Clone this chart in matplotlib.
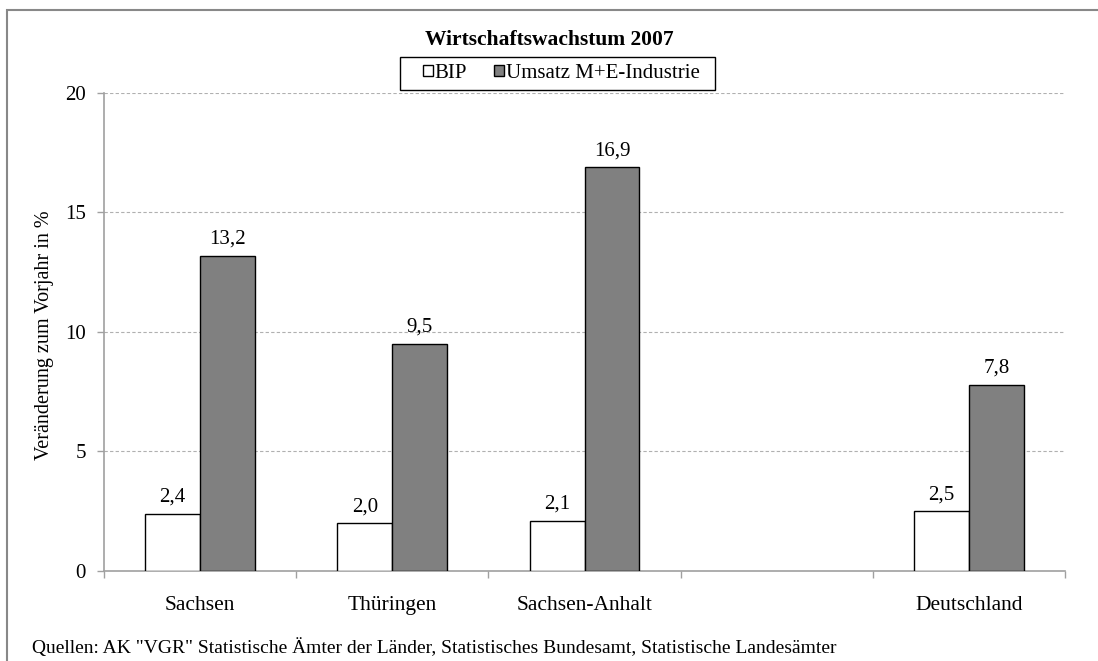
import numpy as np
import matplotlib
matplotlib.use("Agg")
import matplotlib.pyplot as plt
from matplotlib.patches import Rectangle

plt.rcParams["font.family"] = ["Liberation Serif", "DejaVu Serif"]

categories = ["Sachsen", "Thüringen", "Sachsen-Anhalt", "", "Deutschland"]
bip = [2.4, 2.0, 2.1, np.nan, 2.5]
umsatz = [13.2, 9.5, 16.9, np.nan, 7.8]
series_names = ["BIP", "Umsatz M+E-Industrie"]
yticks = [0, 5, 10, 15, 20]


def fmt(v):
    return f"{v:.1f}".replace(".", ",")


def main():
    fig = plt.figure(figsize=(10.98, 6.61), dpi=100)
    ax = fig.add_axes([0.0947, 0.1362, 0.8753, 0.7231])

    x = np.arange(len(categories))
    w = 0.286
    b1 = ax.bar(x - w / 2, bip, w, color="white", edgecolor="black", linewidth=1.0,
                label=series_names[0], zorder=3)
    b2 = ax.bar(x + w / 2, umsatz, w, color="#808080", edgecolor="black", linewidth=1.0,
                label=series_names[1], zorder=3)

    for bars, vals in ((b1, bip), (b2, umsatz)):
        for bar, v in zip(bars, vals):
            if np.isnan(v):
                continue
            ax.annotate(fmt(v), (bar.get_x() + bar.get_width() / 2, v),
                        xytext=(0, 5), textcoords="offset points",
                        ha="center", va="bottom", fontsize=15)

    ax.set_xlim(-0.5, len(categories) - 0.5)
    ax.set_ylim(0, 20)
    ax.set_yticks(yticks)
    ax.set_yticklabels([str(t) for t in yticks], fontsize=15)
    ax.yaxis.grid(True, linestyle=(0, (3, 2)), color="#b0b0b0", linewidth=0.8, zorder=0)

    # category boundaries as major ticks, names as minor ticks
    ax.set_xticks(np.arange(len(categories) + 1) - 0.5)
    ax.set_xticklabels([])
    ax.set_xticks(x, minor=True)
    ax.set_xticklabels(categories, minor=True, fontsize=15.5)
    ax.tick_params(axis="x", which="major", length=5, color="#a0a0a0", width=1)
    ax.tick_params(axis="x", which="minor", length=0, pad=18)
    ax.tick_params(axis="y", length=5, color="#a0a0a0", width=1, pad=8)

    for s in ("top", "right"):
        ax.spines[s].set_visible(False)
    for s in ("left", "bottom"):
        ax.spines[s].set_color("#a0a0a0")
        ax.spines[s].set_linewidth(1.2)

    ax.set_ylabel("Veränderung zum Vorjahr in %", fontsize=14.5)
    ax.yaxis.set_label_coords(-0.052, 0.493)

    fig.text(0.5, 0.94, "Wirtschaftswachstum 2007", ha="center", va="center",
             fontsize=15.5, fontweight="bold")

    fig.legend(loc="center left", bbox_to_anchor=(0.385, 0.889), ncol=2, fontsize=15,
               frameon=False, handlelength=0.48, handleheight=0.48,
               handletextpad=0.1, columnspacing=1.3, borderpad=0, borderaxespad=0)
    # legend frame, wider on the left like the original
    fig.patches.append(Rectangle((400 / 1098, 1 - 90 / 661), 315 / 1098, 33 / 661,
                                 transform=fig.transFigure, fill=False,
                                 edgecolor="black", linewidth=1.0))

    fig.text(0.029, 0.02, 'Quellen: AK "VGR" Statistische Ämter der Länder, Statistisches Bundesamt, '
             'Statistische Landesämter', ha="left", va="center", fontsize=14)

    fig.patches.append(Rectangle((0.0064, -0.05), 1.05, 1.035, transform=fig.transFigure,
                                 fill=False, edgecolor="#888888", linewidth=1.5))

    fig.savefig("out.png", dpi=100)
    plt.close(fig)


if __name__ == "__main__":
    main()
